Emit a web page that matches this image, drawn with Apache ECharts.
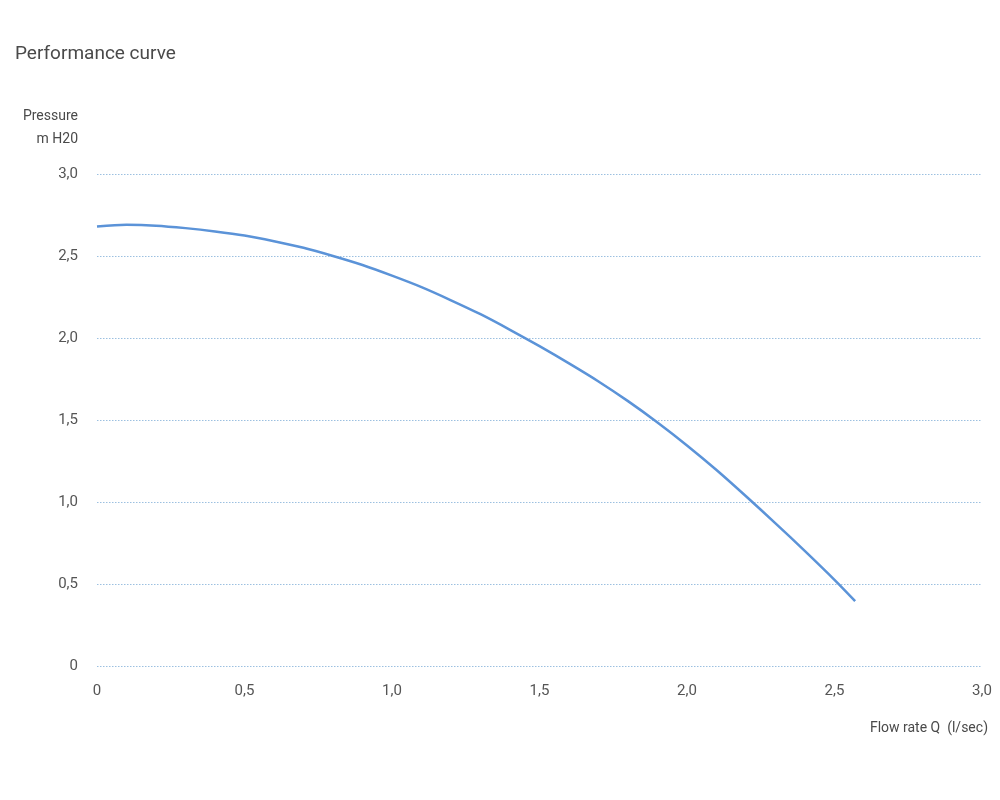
<!DOCTYPE html>
<html>
<head>
<meta charset="utf-8">
<script src="https://cdn.jsdelivr.net/npm/echarts@6/dist/echarts.min.js"></script>
<style>
html,body{margin:0;padding:0;background:#fff;}
#chart{width:1000px;height:800px;}
</style>
</head>
<body>
<div id="chart"></div>
<script>
const flowRate = [0, 0.1, 0.2, 0.3, 0.4, 0.5, 0.6, 0.7, 0.8, 0.9, 1.0, 1.1, 1.2, 1.3, 1.4, 1.5, 1.6, 1.7, 1.8, 1.9, 2.0, 2.1, 2.2, 2.3, 2.4, 2.5, 2.57];
const pressure = [2.68, 2.69, 2.685, 2.67, 2.65, 2.625, 2.59, 2.55, 2.5, 2.445, 2.38, 2.31, 2.23, 2.145, 2.05, 1.95, 1.845, 1.735, 1.615, 1.485, 1.345, 1.195, 1.035, 0.87, 0.70, 0.525, 0.395];
const titleText = 'Performance curve';
const yAxisTitle = ['Pressure', 'm H20'];
const xAxisTitle = 'Flow rate Q  (l/sec)';

const font = 'Roboto, "DejaVu Sans", sans-serif';
const fmt = v => v === 0 ? '0' : v.toFixed(1).replace('.', ',');

const chart = echarts.init(document.getElementById('chart'));
chart.setOption({
  backgroundColor: '#ffffff',
  animation: false,
  title: {
    text: titleText,
    left: 10, top: 40,
    textStyle: {fontFamily: font, fontSize: 19, fontWeight: 'normal', color: '#4a4a4a'}
  },
  graphic: [
    {type: 'text', right: 1000 - 78, top: 109, style: {text: yAxisTitle[0], font: '14px ' + font, fill: '#4a4a4a', textAlign: 'right'}},
    {type: 'text', right: 1000 - 78, top: 132, style: {text: yAxisTitle[1], font: '14px ' + font, fill: '#4a4a4a', textAlign: 'right'}},
    {type: 'text', right: 12, top: 721, style: {text: xAxisTitle, font: '14px ' + font, fill: '#4a4a4a'}}
  ],
  grid: {left: 97, right: 18, top: 174, bottom: 134, containLabel: false},
  xAxis: {
    type: 'value', min: 0, max: 3, interval: 0.5,
    axisLine: {show: false}, axisTick: {show: false},
    splitLine: {show: false},
    axisLabel: {formatter: fmt, margin: 18, fontFamily: font, fontSize: 15, color: '#555'}
  },
  yAxis: {
    type: 'value', min: 0, max: 3, interval: 0.5,
    axisLine: {show: false}, axisTick: {show: false},
    splitLine: {show: true, lineStyle: {type: [1.5, 1.5], color: '#9cc0e0', width: 1}},
    axisLabel: {formatter: fmt, margin: 19, fontFamily: font, fontSize: 15, color: '#555'}
  },
  series: [{
    type: 'line',
    data: flowRate.map((x, i) => [x, pressure[i]]),
    smooth: 0.3,
    showSymbol: false,
    lineStyle: {color: '#5b93d8', width: 2.5}
  }]
});
</script>
</body>
</html>
